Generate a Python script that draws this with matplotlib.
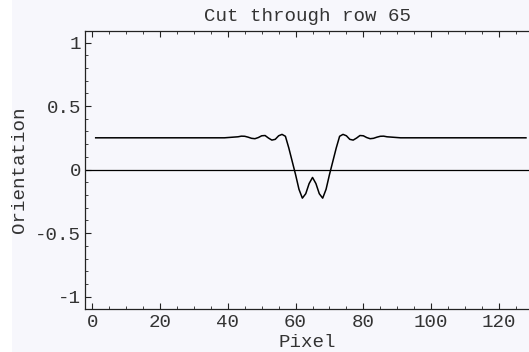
import matplotlib
matplotlib.use("Agg")
import matplotlib.pyplot as plt
from matplotlib.ticker import FixedLocator, FixedFormatter, MultipleLocator
from matplotlib.patches import Rectangle

# ---- data ----
pixels = list(range(1, 129))
left_flat = [0.25] * 39  # pixels 1..39
center = [
    0.252, 0.254, 0.256, 0.258, 0.263, 0.262, 0.255, 0.246, 0.243, 0.252,   # 40-49
    0.266, 0.268, 0.248, 0.232, 0.238, 0.266, 0.277, 0.262, 0.170, 0.065,   # 50-59
    -0.040, -0.155, -0.225, -0.190, -0.110, -0.062, -0.110, -0.190, -0.225, -0.155,  # 60-69
    -0.040, 0.065, 0.170, 0.262, 0.277, 0.266, 0.238, 0.232, 0.248, 0.268,  # 70-79
    0.266, 0.252, 0.243, 0.246, 0.255, 0.262, 0.263, 0.258, 0.256, 0.254,   # 80-89
    0.252,                                                                    # 90
]
right_flat = [0.25] * (128 - 90)  # pixels 91..128
orientation = left_flat + center + right_flat

xticks = [0, 20, 40, 60, 80, 100, 120]
xtick_labels = ["0", "20", "40", "60", "80", "100", "120"]
yticks = [-1, -0.5, 0, 0.5, 1]
ytick_labels = ["-1", "-0.5", "0", "0.5", "1"]
title = "Cut through row 65"
xlabel = "Pixel"
ylabel = "Orientation"

# ---- style ----
bg = "#f7f7fc"
txt = "#333333"
fs = 13.8
plt.rcParams["font.family"] = ["Liberation Mono", "DejaVu Sans Mono"]
plt.rcParams["axes.unicode_minus"] = False

fig = plt.figure(figsize=(5.29, 3.52), dpi=100, facecolor=bg)
fig.patches.append(Rectangle((0, 0), 12 / 529, 1, transform=fig.transFigure,
                             facecolor="white", edgecolor="none", zorder=-10))

ax = fig.add_axes([85.3 / 529, 43.3 / 352, (529 - 85.3) / 529, 278.0 / 352])
ax.set_facecolor(bg)

ax.axhline(0, color="black", lw=0.9, zorder=2)
ax.plot(pixels, orientation, color="black", lw=1.1, zorder=3)

ax.set_xlim(-2.07, 128.9)
ax.set_ylim(-1.095, 1.093)

ax.xaxis.set_major_locator(FixedLocator(xticks))
ax.xaxis.set_major_formatter(FixedFormatter(xtick_labels))
ax.xaxis.set_minor_locator(MultipleLocator(5))
ax.yaxis.set_major_locator(FixedLocator(yticks))
ax.yaxis.set_major_formatter(FixedFormatter(ytick_labels))
ax.yaxis.set_minor_locator(MultipleLocator(0.1))

ax.spines["right"].set_visible(False)
for s in ["left", "bottom", "top"]:
    ax.spines[s].set_linewidth(0.9)
    ax.spines[s].set_color("#222222")

ax.tick_params(axis="x", which="both", direction="in", top=True, bottom=True,
               labelsize=fs, pad=4, color="#222222", labelcolor=txt)
ax.tick_params(axis="y", which="both", direction="in", left=True, right=False,
               labelsize=fs, pad=3, color="#222222", labelcolor=txt)
ax.tick_params(which="major", length=4, width=0.8)
ax.tick_params(which="minor", length=2, width=0.6)

ax.set_title(title, fontsize=fs, pad=7, color=txt)
ax.set_xlabel(xlabel, fontsize=fs, labelpad=2, color=txt)
ax.set_ylabel(ylabel, fontsize=fs, labelpad=5, color=txt)

fig.savefig("out.png", dpi=100, facecolor=bg)
